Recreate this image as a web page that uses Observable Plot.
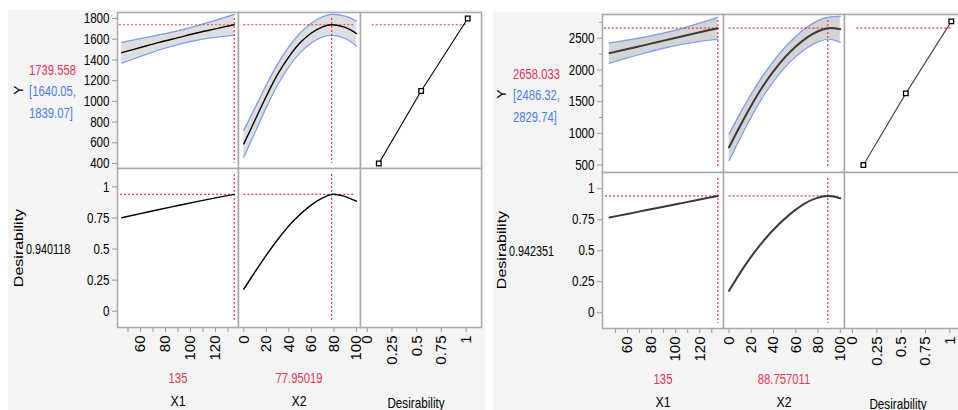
<!DOCTYPE html>
<html><head><meta charset="utf-8">
<script src="https://cdn.jsdelivr.net/npm/d3@7"></script>
<script src="https://cdn.jsdelivr.net/npm/@observablehq/plot@0.6"></script>
<style>
body{margin:0;background:#fff;}
#root{position:relative;width:958px;height:410px;overflow:hidden;background:#fff;}
.bg{position:absolute;background:#f4f4f4;}
.lbl{position:absolute;white-space:nowrap;line-height:1;}
</style></head><body><div id="root"></div>
<script>
// ===== Left profiler data =====
const L_x1 = [45, 60, 75, 90, 105, 120, 135];
const L_y_x1 = [1470, 1520, 1570, 1615, 1660, 1700, 1740];
const L_lo_x1 = [1370, 1435, 1498, 1549, 1590, 1618, 1640];
const L_hi_x1 = [1570, 1605, 1642, 1681, 1730, 1782, 1840];
const L_x2 = [0, 10, 20, 30, 40, 50, 60, 70, 78, 90, 100];
const L_y_x2 = [590, 820, 1050, 1260, 1430, 1565, 1660, 1720, 1740, 1715, 1655];
const L_lo_x2 = [462, 702, 942, 1160, 1334, 1471, 1565, 1623, 1640, 1607, 1535];
const L_hi_x2 = [718, 938, 1158, 1360, 1526, 1659, 1755, 1817, 1840, 1823, 1775];
const L_d_x1 = [0.752, 0.785, 0.818, 0.85, 0.882, 0.912, 0.94];
const L_dx2_x = [0, 15, 30, 45, 60, 70, 78, 88, 100];
const L_d_x2 = [0.177, 0.385, 0.575, 0.735, 0.855, 0.912, 0.94, 0.928, 0.885];
const L_desPts = [0.117, 0.545, 1.016];
const L_yPts = [400, 1100, 1800];
const L_x1Now = 135, L_x2Now = 77.95019, L_yNow = 1739.558, L_dNow = 0.940118;
const L_texts = ["1739.558", "[1640.05,", "1839.07]", "0.940118", "135", "77.95019"];
const L_yTicks = [400, 600, 800, 1000, 1200, 1400, 1600, 1800];

// ===== Right profiler data =====
const R_x1 = [45, 60, 75, 90, 105, 120, 135];
const R_y_x1 = [2265, 2330, 2395, 2462, 2528, 2594, 2658];
const R_lo_x1 = [2105, 2190, 2269, 2342, 2403, 2451, 2486];
const R_hi_x1 = [2425, 2470, 2521, 2582, 2653, 2737, 2830];
const R_x2 = [0, 10, 20, 30, 40, 50, 60, 70, 80, 89, 100];
const R_y_x2 = [780, 1120, 1440, 1730, 1980, 2195, 2370, 2510, 2610, 2658, 2640];
const R_lo_x2 = [570, 925, 1260, 1562, 1820, 2038, 2212, 2348, 2442, 2486, 2435];
const R_hi_x2 = [990, 1315, 1620, 1898, 2140, 2352, 2528, 2672, 2778, 2830, 2845];
const R_d_x1 = [0.768, 0.797, 0.826, 0.855, 0.884, 0.913, 0.942];
const R_dx2_x = [0, 15, 30, 45, 60, 75, 89, 100];
const R_d_x2 = [0.177, 0.39, 0.57, 0.715, 0.832, 0.912, 0.942, 0.924];
const R_desPts = [0.112, 0.548, 1.015];
const R_yPts = [500, 1630, 2765];
const R_x1Now = 135, R_x2Now = 88.757011, R_yNow = 2658.033, R_dNow = 0.942351;
const R_texts = ["2658.033", "[2486.32,", "2829.74]", "0.942351", "135", "88.757011"];
const R_yTicks = [500, 1000, 1500, 2000, 2500];
const R_yMinor = [750, 1250, 1750, 2250, 2750];

// ===== shared tick labels =====
const X1_ticks = [50, 60, 70, 80, 90, 100, 110, 120, 130];
const X2_ticks = [0, 20, 40, 60, 80, 100];
const D_ticks = [0, 0.25, 0.5, 0.75, 1];

// ===== styling =====
const RED = "#ef3350", BLUE = "#4d7cf2", BANDLINE = "#7b9ff2";
const FRAME = "#a9a9a9", TICK = "#9a9a9a";
const REG = '"Liberation Sans",Arial,sans-serif';
const TICK_SQUEEZE = 0.8, TEXT_SQUEEZE = 0.75;
const root = document.getElementById("root");

function box(cls, l, t, w, h) {
  const d = document.createElement("div"); d.className = cls;
  Object.assign(d.style, {left: l + "px", top: t + "px", width: w + "px", height: h + "px"});
  root.appendChild(d);
}
box("bg", 8, 10, 477, 400);
box("bg", 493, 12, 465, 398);

function label(text, x, y, {color = "#000", size = 15, align = "left", rotate = false, sq = TEXT_SQUEEZE} = {}) {
  const d = document.createElement("div"); d.className = "lbl"; d.textContent = text;
  d.style.color = color; d.style.fontSize = size + "px"; d.style.fontFamily = REG;
  d.style.left = x + "px"; d.style.top = y + "px";
  if (rotate) {
    d.style.transform = `translate(-50%,-50%) scaleX(${sq}) rotate(-90deg)`;
  } else if (align === "center") {
    d.style.transform = `translate(-50%,-50%) scaleX(${sq})`;
  } else {
    d.style.transformOrigin = "0 50%";
    d.style.transform = `translate(0,-50%) scaleX(${sq})`;
  }
  root.appendChild(d);
}

function panel({x0, x1, y0, y1, ml = 0, mb = 0, xDom, yDom, marks = []}) {
  const p = Plot.plot({
    width: (x1 - x0) + ml, height: (y1 - y0) + mb,
    marginLeft: ml, marginRight: 0, marginTop: 0, marginBottom: mb,
    x: {domain: xDom, axis: null}, y: {domain: yDom, axis: null},
    style: {background: "transparent", overflow: "visible", fontFamily: REG, fontSize: "14px", color: "#000"},
    marks: [Plot.frame({fill: "white", stroke: "none"}), ...marks, Plot.frame({stroke: FRAME, strokeWidth: 1.5})]
  });
  // horizontal tick labels are condensed like the reference
  p.querySelectorAll('g[aria-label="y-axis tick label"] text').forEach(t => {
    const tr = t.getAttribute("transform");
    if (tr) t.setAttribute("transform", tr + ` scale(${TICK_SQUEEZE},1)`);
  });
  p.style.position = "absolute"; p.style.left = (x0 - ml) + "px"; p.style.top = y0 + "px";
  root.appendChild(p);
}

const fmt = d => String(d);
function yAxis(ticks, minor) {
  const m = [Plot.axisY({anchor: "left", ticks, tickFormat: fmt, tickSize: 5, tickPadding: 3,
    stroke: TICK, fill: "#000", fontFamily: REG, fontSize: 14.5, label: null})];
  if (minor) m.push(Plot.axisY({anchor: "left", ticks: minor, tickFormat: () => "", tickSize: 3, stroke: TICK, label: null}));
  return m;
}
function xAxis(ticks, format) {
  return [Plot.axisX({anchor: "bottom", ticks, tickFormat: format || fmt, tickRotate: -90, tickSize: 5, tickPadding: 3,
    stroke: TICK, fill: "#000", fontFamily: REG, fontSize: 15, label: null})];
}
function band(xs, mid, lo, hi, s) {
  const rows = xs.map((x, i) => ({x, mid: mid[i], lo: lo[i], hi: hi[i]}));
  return {
    under: [
      Plot.areaY(rows, {x: "x", y1: "lo", y2: "hi", fill: s.fill, curve: "catmull-rom", clip: true}),
      Plot.lineY(rows, {x: "x", y: "lo", stroke: BANDLINE, strokeWidth: 1.3, curve: "catmull-rom", clip: true}),
      Plot.lineY(rows, {x: "x", y: "hi", stroke: BANDLINE, strokeWidth: 1.3, curve: "catmull-rom", clip: true})
    ],
    over: [Plot.lineY(rows, {x: "x", y: "mid", stroke: s.line, strokeWidth: s.lw, curve: "catmull-rom", clip: true})]
  };
}
function curve(xs, ys, s) {
  const rows = xs.map((x, i) => ({x, y: ys[i]}));
  return Plot.lineY(rows, {x: "x", y: "y", stroke: s.line, strokeWidth: s.lw, curve: "catmull-rom", clip: true});
}
const dash = {stroke: RED, strokeWidth: 1.2, strokeDasharray: "2,2"};
function hRule(y, xa, xb) { return Plot.ruleY([{y, a: xa, b: xb}], {y: "y", x1: "a", x2: "b", ...dash}); }
function vRule(x) { return Plot.ruleX([x], {...dash, insetTop: 6, insetBottom: 5}); }

function profiler(c) {
  const [c0, c1, c2, c3] = c.cols, [r0, r1, r2] = c.rows;
  const s = c.style;
  const b1 = band(c.x1, c.yx1, c.lox1, c.hix1, s);
  const b2 = band(c.x2, c.yx2, c.lox2, c.hix2, s);
  // top row
  panel({x0: c0, x1: c1, y0: r0, y1: r1, ml: 70, xDom: c.x1Dom, yDom: c.yDom,
    marks: [...b1.under, hRule(c.yNow, c.x1Dom[0] + 1.5, c.x1Now), vRule(c.x1Now), ...b1.over, ...yAxis(c.yTicks, c.yMinor)]});
  panel({x0: c1, x1: c2, y0: r0, y1: r1, xDom: c.x2Dom, yDom: c.yDom,
    marks: [...b2.under, hRule(c.yNow, 0, 98), vRule(c.x2Now), ...b2.over]});
  const pts = c.desPts.map((d, i) => ({d, y: c.yPts[i]}));
  panel({x0: c2, x1: c3, y0: r0, y1: r1, xDom: c.dDom, yDom: c.yDom,
    marks: [hRule(c.yNow, c.hd[0], c.hd[1]),
      Plot.line(pts, {x: "d", y: "y", stroke: s.dline, strokeWidth: 1.1}),
      Plot.dot(pts, {x: "d", y: "y", symbol: "square", r: 2.6, fill: "white", stroke: "#000", strokeWidth: 1.3})]});
  // bottom row
  panel({x0: c0, x1: c1, y0: r1, y1: r2, ml: 70, mb: 50, xDom: c.x1Dom, yDom: c.ddDom,
    marks: [hRule(c.dNow, c.x1Dom[0] + 2.5, c.x1Now), vRule(c.x1Now), curve(c.x1, c.dx1, s), ...yAxis(D_ticks), ...xAxis(X1_ticks, d => d % 20 === 0 ? String(d) : "")]});
  panel({x0: c1, x1: c2, y0: r1, y1: r2, mb: 50, xDom: c.x2Dom, yDom: c.ddDom,
    marks: [hRule(c.dNow, 0, 98), vRule(c.x2Now), curve(c.dx2x, c.dx2, s), ...xAxis(X2_ticks)]});
  panel({x0: c2, x1: c3, y0: r1, y1: r2, mb: 50, xDom: c.dDom, yDom: c.ddDom, marks: [...xAxis(D_ticks)]});
  // texts
  const t = c.texts, L = c.lab;
  label("Y", L.yX, L.yY, {rotate: true, size: 14, sq: 0.85});
  label(t[0], L.vX, L.yY - 21, {color: RED});
  label(t[1], L.vX, L.yY, {color: BLUE});
  label(t[2], L.vX, L.yY + 22, {color: BLUE});
  label("Desirability", L.yX, L.dY, {rotate: true, size: 16, sq: 0.85});
  label(t[3], L.dvX, L.dY, {sq: 0.72});
  const mc1 = (c0 + c1) / 2, mc2 = (c1 + c2) / 2;
  label(t[4], mc1, L.nowY, {color: RED, align: "center"});
  label(t[5], mc2, L.nowY, {color: RED, align: "center"});
  label("X1", mc1, L.nameY, {align: "center", sq: 0.82});
  label("X2", mc2, L.nameY, {align: "center", sq: 0.82});
  label("Desirability", L.dnX, L.nameY + 2, {align: "center", sq: 0.78});
}

profiler({
  cols: [117, 238, 360, 481], rows: [12, 168, 327],
  x1Dom: [41.6, 138.4], x2Dom: [-4.7, 103.6], dDom: [-0.068, 1.155],
  yDom: [352, 1858], ddDom: [-0.131, 1.148], hd: [0.05, 1.0],
  x1: L_x1, yx1: L_y_x1, lox1: L_lo_x1, hix1: L_hi_x1,
  x2: L_x2, yx2: L_y_x2, lox2: L_lo_x2, hix2: L_hi_x2,
  dx1: L_d_x1, dx2x: L_dx2_x, dx2: L_d_x2, desPts: L_desPts, yPts: L_yPts,
  x1Now: L_x1Now, x2Now: L_x2Now, yNow: L_yNow, dNow: L_dNow,
  yTicks: L_yTicks, yMinor: null, texts: L_texts,
  style: {fill: "#dedede", line: "#000", lw: 1.4, dline: "#000"},
  lab: {yX: 18.5, yY: 90, vX: 29, dY: 248, dvX: 25.5, nowY: 377, nameY: 400, dnX: 416}
});
profiler({
  cols: [602, 723, 844, 962], rows: [14, 172, 328],
  x1Dom: [39.3, 139.7], x2Dom: [-5, 103.8], dDom: [-0.082, 1.13],
  yDom: [383, 2874], ddDom: [-0.127, 1.131], hd: [0.045, 1.02],
  x1: R_x1, yx1: R_y_x1, lox1: R_lo_x1, hix1: R_hi_x1,
  x2: R_x2, yx2: R_y_x2, lox2: R_lo_x2, hix2: R_hi_x2,
  dx1: R_d_x1, dx2x: R_dx2_x, dx2: R_d_x2, desPts: R_desPts, yPts: R_yPts,
  x1Now: R_x1Now, x2Now: R_x2Now, yNow: R_yNow, dNow: R_dNow,
  yTicks: R_yTicks, yMinor: R_yMinor, texts: R_texts,
  style: {fill: "#d4d4d4", line: "#3a3a3a", lw: 2, dline: "#444"},
  lab: {yX: 502, yY: 94, vX: 513, dY: 250, dvX: 509, nowY: 378, nameY: 401, dnX: 898}
});
</script></body></html>
